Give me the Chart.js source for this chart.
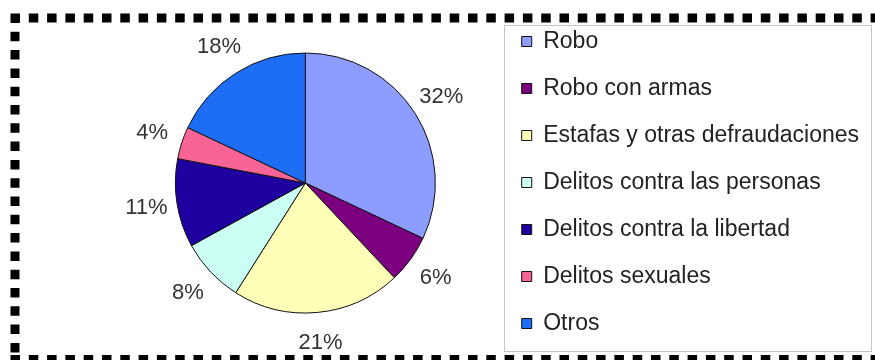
<!DOCTYPE html>
<html>
<head>
<meta charset="utf-8">
<script src="https://cdn.jsdelivr.net/npm/chart.js@4/dist/chart.umd.min.js"></script>
<style>
  html, body { margin: 0; padding: 0; background: #fff; }
  #wrap { position: relative; width: 875px; height: 360px; }
</style>
</head>
<body>
<div id="wrap"><canvas id="c" width="875" height="360"></canvas></div>
<script>
// Categories and their share of the total (percent)
const categories = [
  'Robo',
  'Robo con armas',
  'Estafas y otras defraudaciones',
  'Delitos contra las personas',
  'Delitos contra la libertad',
  'Delitos sexuales',
  'Otros'
];
const shares = [32, 6, 21, 8, 11, 4, 18];
const sliceColors = ['#8c9cff', '#7a0080', '#ffffb8', '#ccfff4', '#1e00a0', '#f86496', '#1e6ef5'];

const FONT = '"Liberation Sans", Arial, sans-serif';

// Percent labels placed just outside each slice
const outsideLabels = {
  id: 'outsideLabels',
  afterDatasetsDraw(chart) {
    const ctx = chart.ctx;
    const meta = chart.getDatasetMeta(0);
    ctx.save();
    ctx.font = '22px ' + FONT;
    ctx.fillStyle = '#333';
    ctx.textAlign = 'center';
    ctx.textBaseline = 'middle';
    meta.data.forEach((arc, i) => {
      const p = arc.getProps(['x', 'y', 'startAngle', 'endAngle', 'outerRadius'], true);
      const mid = (p.startAngle + p.endAngle) / 2;
      const r = p.outerRadius + 31;
      ctx.fillText(shares[i] + '%', p.x + Math.cos(mid) * r, p.y + Math.sin(mid) * r);
    });
    ctx.restore();
  }
};

// Dashed outer frame and thin box around the legend
const frame = {
  id: 'frame',
  afterDraw(chart) {
    const ctx = chart.ctx;
    const lg = chart.legend;
    ctx.save();
    ctx.strokeStyle = '#c4c4c4';
    ctx.lineWidth = 1;
    const bx = Math.round(lg.left + 6) + 0.5;
    ctx.strokeRect(bx, 25.5, 871.5 - bx, 326);

    ctx.strokeStyle = '#000';
    ctx.lineWidth = 9;
    ctx.setLineDash([9.5, 8.8]);
    ctx.beginPath();
    ctx.moveTo(10.5, 18); ctx.lineTo(880, 18);
    ctx.moveTo(15, 13.5); ctx.lineTo(15, 365);
    ctx.moveTo(10.5, 359.5); ctx.lineTo(880, 359.5);
    ctx.stroke();
    ctx.restore();
  }
};

new Chart(document.getElementById('c'), {
  type: 'pie',
  data: {
    labels: categories,
    datasets: [{
      data: shares,
      backgroundColor: sliceColors,
      borderColor: '#111',
      borderWidth: 1,
      radius: 130
    }]
  },
  options: {
    responsive: false,
    animation: false,
    layout: { padding: { left: 113, right: 6, top: 6, bottom: 0 } },
    plugins: {
      tooltip: { enabled: false },
      legend: {
        position: 'right',
        align: 'start',
        labels: {
          boxWidth: 10,
          boxHeight: 10,
          padding: 24,
          color: '#222',
          font: { family: FONT, size: 23 }
        }
      }
    }
  },
  plugins: [outsideLabels, frame]
});
</script>
</body>
</html>
